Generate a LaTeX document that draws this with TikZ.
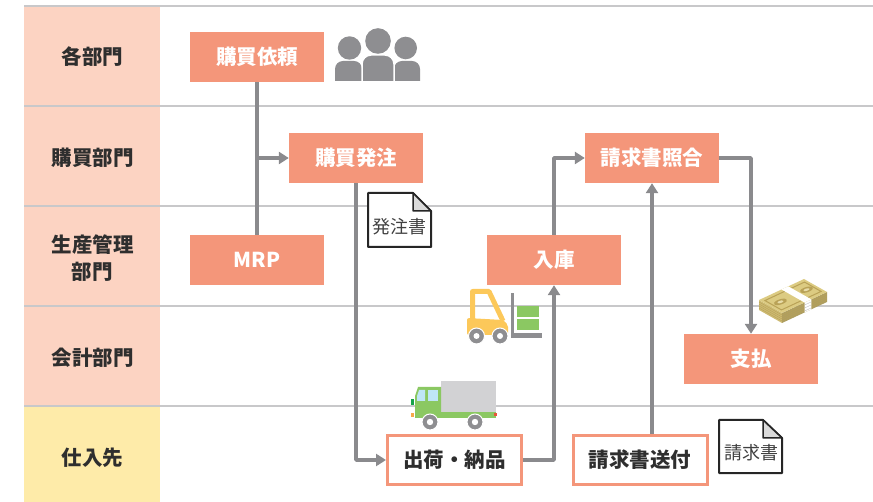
\documentclass[tikz,border=0pt]{standalone}
\usepackage{fontspec}
\setmainfont{Noto Sans CJK JP}
\usetikzlibrary{arrows.meta}

\definecolor{salmon}{HTML}{F4967A}
\definecolor{lanepink}{HTML}{FCD3C2}
\definecolor{laneyellow}{HTML}{FEEBA9}
\definecolor{rulegray}{HTML}{C8C8CA}
\definecolor{flowgray}{HTML}{8A8A8D}
\definecolor{labeltext}{HTML}{2E2E2E}
\definecolor{icongray}{HTML}{8E8E91}
\definecolor{cargogray}{HTML}{D2D2D4}
\definecolor{truckgreen}{HTML}{8BC862}
\definecolor{windowblue}{HTML}{BFE6F7}
\definecolor{lampgreen}{HTML}{17A34A}
\definecolor{lamporange}{HTML}{F7A84A}
\definecolor{lampred}{HTML}{E8553A}
\definecolor{forkyellow}{HTML}{FCC85A}
\definecolor{billtop}{HTML}{DCCB82}
\definecolor{billdark}{HTML}{B9A257}
\definecolor{billside}{HTML}{CDBA72}
\definecolor{foldgray}{HTML}{DADADA}

\tikzset{
  lanerule/.style={draw=rulegray, line width=1.5pt},
  lanelabel/.style={text=labeltext, align=center, inner sep=0pt,
    font=\bfseries\fontsize{20.5pt}{27pt}\selectfont},
  procbox/.style={fill=salmon, text=white, inner sep=0pt,
    minimum width=134pt, minimum height=50pt,
    font=\bfseries\fontsize{20.5pt}{22pt}\selectfont},
  vendorbox/.style={draw=salmon, line width=3pt, fill=white, text=labeltext,
    inner sep=0pt, minimum width=134pt, minimum height=49pt,
    font=\bfseries\fontsize{20.5pt}{22pt}\selectfont},
  link/.style={draw=flowgray, line width=3.5pt},
  flow/.style={link, line join=round, -{Triangle[length=10pt,width=12pt]}},
  docsheet/.style={draw=black!85, line width=2pt, fill=white, line join=round},
  docfold/.style={draw=black!85, line width=1.5pt, fill=foldgray, line join=round},
  doclabel/.style={text=black!75, inner sep=0pt, font=\fontsize{18pt}{20pt}\selectfont},
}

\begin{document}
\begin{tikzpicture}[x=1pt, y=-1pt]
\useasboundingbox (0,0) rectangle (873,502);

% swimlane headers
\fill[lanepink] (24,6) rectangle (160,406);
\fill[laneyellow] (24,406) rectangle (160,502);
\foreach \yy in {6,106,206,306,406}
  \draw[lanerule] (24,\yy) -- (873,\yy);

\node[lanelabel] (lane1) at (92.5,57) {各部門};
\node[lanelabel] (lane2) at (92.5,158) {購買部門};
\node[lanelabel] (lane3) at (92.5,258) {生産管理\\部門};
\node[lanelabel] (lane4) at (92.5,358) {会計部門};
\node[lanelabel] (lane5) at (92.5,458) {仕入先};

% people icon
\begin{scope}
  \clip (330,20) rectangle (425,81);
  \fill[icongray] (349.5,48) circle[radius=11.7pt];
  \fill[icongray] (405.7,48) circle[radius=11.3pt];
  \fill[icongray] (378,41) circle[radius=12.8pt];
  \fill[icongray, rounded corners=8pt] (335,95) rectangle (362,61);
  \fill[icongray, rounded corners=8pt] (394,95) rectangle (420,61);
  \filldraw[icongray, draw=white, line width=1.5pt, rounded corners=9pt] (362,95) rectangle (394,55);
\end{scope}

% forklift
\draw[forkyellow, line width=5pt, line join=round] (472.5,321) -- (472.5,291.5) -- (489,291.5) -- (503,321);
\fill[forkyellow, rounded corners=2pt] (467,318) -- (503,320) -- (508,325) -- (508,335) -- (467,335) -- cycle;
\fill[icongray] (511,293) rectangle (514,338);
\fill[icongray] (511,333) rectangle (542,338);
\fill[truckgreen] (517,306) rectangle (539,317);
\fill[truckgreen] (517,319) rectangle (539,330);
\foreach \wx in {476.5,500} {
  \filldraw[icongray, draw=white, line width=1pt] (\wx,336) circle[radius=8pt];
  \fill[white] (\wx,336) circle[radius=3pt];
}

% truck
\fill[cargogray] (441,381) rectangle (496,412);
\fill[truckgreen] (418,387) -- (441,387) -- (441,418) -- (415,418) -- (415,396) -- cycle;
\fill[truckgreen] (415,412) rectangle (496,418);
\fill[windowblue] (419,390) -- (425,390) -- (425,401) -- (417,401) -- (417,396) -- cycle;
\fill[windowblue] (428,390) rectangle (438,401);
\fill[lampgreen] (411,399) rectangle (414,405);
\fill[lamporange] (411,413) rectangle (414,417);
\fill[lampred] (494,413) rectangle (497,416);
\foreach \wx in {430,475} {
  \filldraw[icongray, draw=white, line width=1pt] (\wx,422) circle[radius=8pt];
  \fill[white] (\wx,422) circle[radius=3.2pt];
}

% bundle of banknotes
\fill[billside] (759,300) -- (782,313) -- (782,323) -- (759,310) -- cycle;
\fill[billside!85!black] (782,313) -- (827,292) -- (827,302) -- (782,323) -- cycle;
\foreach \k in {2,4,6,8}
  \draw[billdark, line width=0.4pt] (759,300+\k) -- (782,313+\k) -- (827,292+\k);
\fill[white] (804.5,302.5) -- (811.3,299.4) -- (811.3,309.4) -- (804.5,312.5) -- cycle;
\draw[black!25, line width=0.4pt] (804.5,305) -- (811.3,301.9) (804.5,308) -- (811.3,304.9) (804.5,311) -- (811.3,307.9);
\begin{scope}[shift={(759,300)}, x={(45pt,21pt)}, y={(23pt,-13pt)}]
  \fill[billtop] (0,0) -- (1,0) -- (1,1) -- (0,1) -- cycle;
  \draw[billdark, line width=1pt] (0.06,0.14) -- (0.94,0.14) -- (0.94,0.86) -- (0.06,0.86) -- cycle;
  \fill[billdark] (0.22,0.5) circle[radius=0.13];
  \fill[billdark] (0.80,0.5) circle[radius=0.13];
  \fill[billtop!70!white] (0.22,0.5) circle[radius=0.06];
  \fill[billtop!70!white] (0.80,0.5) circle[radius=0.06];
  \fill[white] (0.5,0) -- (0.65,0) -- (0.65,1) -- (0.5,1) -- cycle;
\end{scope}

% process boxes
\node[procbox] (irai) at (257,57) {購買依頼};
\node[procbox] (hatchu) at (356,158) {購買発注};
\node[procbox] (mrp) at (257,260) {MRP};
\node[procbox] (shogo) at (652,158) {請求書照合};
\node[procbox] (nyuko) at (554,260) {入庫};
\node[procbox] (shiharai) at (751,359) {支払};
\node[vendorbox] (shukka) at (454.5,460) {出荷・納品};
\node[vendorbox] (seikyu) at (640,460) {請求書送付};

% connectors
\draw[link] (irai.south) -- (mrp.north);
\draw[flow] (irai.south |- hatchu.west) -- (hatchu.west);
\draw[flow] (hatchu.south) |- (shukka.west);
\draw[flow] (shukka.east) -| (nyuko.south);
\draw[flow] (nyuko.north) |- (shogo.west);
\draw[flow] (seikyu.north -| shogo.south) -- (shogo.south);
\draw[flow] (shogo.east) -| (shiharai.north);

% documents
\draw[docsheet] (368,193) -- (413,193) -- (431,211) -- (431,247) -- (368,247) -- cycle;
\draw[docfold] (413,193) -- (413,211) -- (431,211) -- cycle;
\node[doclabel] (order) at (399.5,227) {発注書};

\draw[docsheet] (719,420) -- (763,420) -- (782,438) -- (782,473) -- (719,473) -- cycle;
\draw[docfold] (763,420) -- (763,438) -- (782,438) -- cycle;
\node[doclabel] (invoice) at (751,453) {請求書};
\end{tikzpicture}
\end{document}
